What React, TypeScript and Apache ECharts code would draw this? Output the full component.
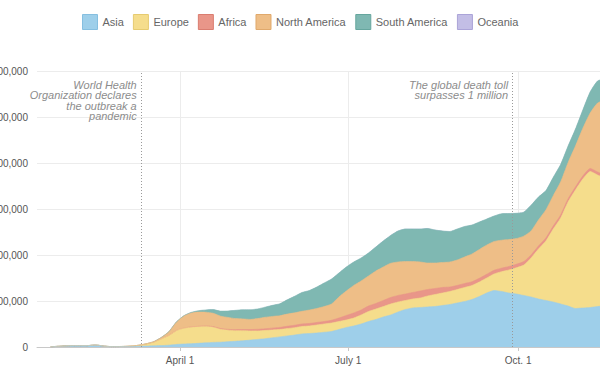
import React, { useEffect, useRef } from "react";
import * as echarts from "echarts";

// Day offsets from 2020-01-22 (first day of data), one sample every 4 days
const days = [
  0, 4, 8, 12, 16, 20, 24, 28, 32, 36, 40, 44, 48, 52, 56, 60, 64, 68, 72, 76,
  80, 84, 88, 92, 96, 100, 104, 108, 112, 116, 120, 124, 128, 132, 136, 140, 144, 148, 152, 156,
  160, 164, 168, 172, 176, 180, 184, 188, 192, 196, 200, 204, 208, 212, 216, 220, 224, 228, 232, 236,
  240, 244, 248, 252, 256, 260, 264, 268, 272, 276, 280, 284, 288, 292, 296, 300,
];

// Daily new cases, thousands
const asiaK = [
  0.5, 1.5, 2.5, 3, 3, 3, 4.5, 2.5, 1, 1, 1, 1.2, 1.5, 2, 2.5, 3, 4, 5.5, 6.5, 7,
  8, 9, 10, 10.5, 11.5, 12.5, 13.5, 15, 16.5, 18, 20, 22, 24, 26, 28.3, 29.3, 30.4, 32, 33.7, 38,
  42.4, 45.7, 50, 55.4, 59.8, 65.2, 69.6, 76.1, 81.5, 84.8, 85.9, 87, 88, 90.2, 92.4, 95.7, 98.9, 103.3, 109.8, 117.4,
  122.8, 120.7, 117.4, 115.2, 112, 108.7, 104.4, 101.1, 97.8, 93.5, 89.1, 83.7, 84.8, 85.9, 88, 89.1,
];
const europeK = [
  0, 0, 0, 0, 0, 0, 0, 0, 0, 0, 0.3, 1, 2.5, 5, 8.5, 15, 21, 30, 34, 36,
  36, 35.5, 33, 28, 25, 23, 22, 20, 18.5, 18, 17, 16, 16, 16, 16.3, 16.4, 17.4, 18, 18.5, 17.4,
  16.3, 17.3, 19.6, 21.8, 22.8, 22.8, 23.9, 21.7, 19.6, 19.6, 20.6, 23.9, 26.1, 27.2, 28.3, 29.3, 30.5, 30.4, 31.5, 32.6,
  36, 43, 50, 57, 66, 85, 108.7, 129.3, 158.7, 186.9, 226.1, 257.6, 280.4, 295.6, 285.9, 278.3,
];
const africaK = [
  0, 0, 0, 0, 0, 0, 0, 0, 0, 0, 0, 0, 0, 0, 0, 0.1, 0.2, 0.3, 0.5, 0.7,
  0.9, 1.1, 1.3, 1.5, 1.8, 2.2, 2.5, 3, 3.3, 3.6, 4, 4.5, 5, 5.2, 5.4, 5.4, 5.5, 5.4, 5.8, 7.6,
  9.8, 10.9, 10.8, 11.9, 12, 13.1, 14.1, 14.2, 14.1, 14.1, 15.2, 14.1, 13.1, 12, 9.7, 8.7, 8.6, 8, 8, 8,
  8, 7.6, 7.6, 7.6, 7.6, 6.5, 6.5, 6.6, 6.5, 6.6, 6.5, 6.5, 6.5, 6.5, 6.5, 6.5,
];
const northAmericaK = [
  0, 0, 0, 0, 0, 0, 0, 0, 0, 0, 0, 0, 0, 0.3, 1, 3, 8, 18, 26, 30,
  31, 30, 29, 27, 26, 24, 23, 22, 23.5, 25, 25.5, 25.5, 26.5, 27, 27.6, 29.3, 30.4, 32.6, 35.5, 45.7,
  53.2, 59.8, 63.1, 65.3, 70.6, 72.8, 74.4, 72.8, 70.7, 67.4, 63.1, 57.6, 55.4, 54.3, 54.4, 55.4, 57.7, 60.5, 62.7, 63.7,
  62.6, 60.9, 58.7, 55.9, 55.4, 52.2, 56.5, 61, 66, 72, 79, 89, 103.7, 120.7, 150, 163.1,
];
const southAmericaK = [
  0, 0, 0, 0, 0, 0, 0, 0, 0, 0, 0, 0, 0, 0, 0, 0.1, 0.3, 0.5, 0.8, 1.5,
  3, 5, 8, 11, 14, 18, 20, 21, 21, 22, 24, 26, 31, 36, 40.9, 42.4, 46.7, 51.1, 54.3, 52.2,
  52.2, 51.1, 50, 50, 52.2, 56.5, 60.4, 67.4, 70.6, 70.6, 71.7, 75, 71.8, 68.5, 66.3, 67.4, 66.3, 63, 59.8, 56.6,
  55.4, 57.6, 56.5, 55, 52.2, 56, 50, 42, 40, 38, 36, 37, 40, 46, 48, 46,
];
const oceaniaK = [
  0, 0, 0, 0, 0, 0, 0, 0, 0, 0, 0, 0, 0, 0, 0.2, 0.3, 0.35, 0.35, 0.3, 0.2,
  0.1, 0.05, 0.03, 0.02, 0.02, 0.02, 0.02, 0.02, 0.02, 0.02, 0.02, 0.02, 0.02, 0.03, 0.03, 0.03, 0.03, 0.04, 0.05, 0.06,
  0.08, 0.12, 0.15, 0.2, 0.3, 0.35, 0.4, 0.5, 0.55, 0.6, 0.5, 0.45, 0.35, 0.3, 0.25, 0.2, 0.15, 0.1, 0.08, 0.06,
  0.05, 0.05, 0.03, 0.03, 0.03, 0.03, 0.03, 0.03, 0.03, 0.03, 0.03, 0.03, 0.03, 0.03, 0.03, 0.03,
];

const seriesNames = ["Asia", "Europe", "Africa", "North America", "South America", "Oceania"];
const seriesColors = ["#9ecfea", "#f5dd8c", "#e99689", "#eebe87", "#7fb8b2", "#c3bee6"];
const seriesBorders = ["#86bfe0", "#e6cb70", "#da7d70", "#e0a96c", "#66a69e", "#aba4d8"];

// x axis extent and ticks (day offsets) with their labels
const xMinDay = -7.4;
const xMaxDay = 300;
const xTickDays = [70, 161, 253];
const xTickLabels = ["April 1", "July 1", "Oct. 1"];

// y axis
const yMax = 600000;
const yStep = 100000;

// annotations: day offset, text
const annotationDays = [49, 250];
const annotationTexts = [
  "World Health\nOrganization declares\nthe outbreak a\npandemic",
  "The global death toll\nsurpasses 1 million",
];
const annotationTopValue = 580000;

const FONT = "'Liberation Sans', Arial, Helvetica, sans-serif";

export default function App() {
  const ref = useRef<HTMLDivElement>(null);

  useEffect(() => {
    document.body.style.margin = "0";
    const chart = echarts.init(ref.current as HTMLDivElement, null, { renderer: "svg" });
    const valuesK = [asiaK, europeK, africaK, northAmericaK, southAmericaK, oceaniaK];

    // Stack the layers: each layer's area is drawn from zero up to the running total,
    // and layers are painted top-most first so lower layers cover them.
    const running = days.map(() => 0);
    const stacked = valuesK.map((vals) =>
      vals.map((v, j) => {
        running[j] += v * 1000;
        return running[j];
      })
    );

    const series: any[] = [];
    for (let i = seriesNames.length - 1; i >= 0; i--) {
      series.push({
        name: seriesNames[i],
        type: "line",
        data: days.map((d, j) => [d, stacked[i][j]]),
        symbol: "none",
        showSymbol: false,
        smooth: 0.2,
        silent: true,
        lineStyle: { width: i === 5 ? 0 : 0.6, color: seriesColors[i] },
        itemStyle: { color: seriesColors[i] },
        areaStyle: { color: seriesColors[i], opacity: 1, origin: "start" },
        emphasis: { disabled: true },
      });
    }

    series.push({
      name: "annotations",
      type: "line",
      data: [],
      silent: true,
      markLine: {
        silent: true,
        symbol: "none",
        label: { show: false },
        lineStyle: { type: [1, 2], color: "#9a9a9a", width: 1 },
        emphasis: { disabled: true },
        data: annotationDays.map((d) => ({ xAxis: d })),
      },
      markPoint: {
        silent: true,
        symbol: "rect",
        symbolSize: 1,
        itemStyle: { color: "rgba(0,0,0,0)" },
        label: {
          show: true,
          position: [-4, 0],
          align: "right",
          verticalAlign: "top",
          fontSize: 11,
          lineHeight: 10.5,
          fontStyle: "italic",
          fontFamily: FONT,
          color: "#8c8c8c",
          formatter: (p: any) => p.name,
        },
        data: annotationDays.map((d, i) => ({ name: annotationTexts[i], coord: [d, annotationTopValue] })),
      },
    });

    chart.setOption({
      animation: false,
      textStyle: { fontFamily: FONT },
      legend: {
        left: 82,
        top: 14,
        padding: 0,
        icon: "rect",
        itemWidth: 15,
        itemHeight: 15,
        itemGap: 9,
        selectedMode: false,
        textStyle: { fontSize: 11, color: "#666", fontFamily: FONT },
        data: seriesNames.map((n, i) => ({
          name: n,
          itemStyle: { color: seriesColors[i], borderColor: seriesBorders[i], borderWidth: 1 },
        })),
      },
      grid: { left: 37, right: -5, top: 71, bottom: 23, containLabel: false, outerBoundsMode: "none" },
      xAxis: {
        type: "value",
        min: xMinDay,
        max: xMaxDay,
        axisLine: { show: true, lineStyle: { color: "#c8c8c8", width: 1 } },
        axisTick: { show: true, customValues: xTickDays, length: 4, lineStyle: { color: "#c8c8c8" } },
        axisLabel: {
          customValues: xTickDays,
          fontSize: 10,
          color: "#555",
          margin: 8,
          formatter: (v: number) => {
            const k = xTickDays.indexOf(Math.round(v));
            return k >= 0 ? xTickLabels[k] : "";
          },
        },
        splitLine: { show: true, lineStyle: { color: "#ececec", width: 1 } },
      },
      yAxis: {
        type: "value",
        min: 0,
        max: yMax,
        interval: yStep,
        axisLine: { show: false },
        axisTick: { show: false },
        axisLabel: {
          fontSize: 10,
          color: "#555",
          margin: 9,
          formatter: (v: number) => v.toLocaleString("en-US"),
        },
        splitLine: { show: true, lineStyle: { color: "#ececec", width: 1 } },
      },
      series,
    });

    return () => chart.dispose();
  }, []);

  return <div ref={ref} style={{ width: 600, height: 370 }} />;
}
